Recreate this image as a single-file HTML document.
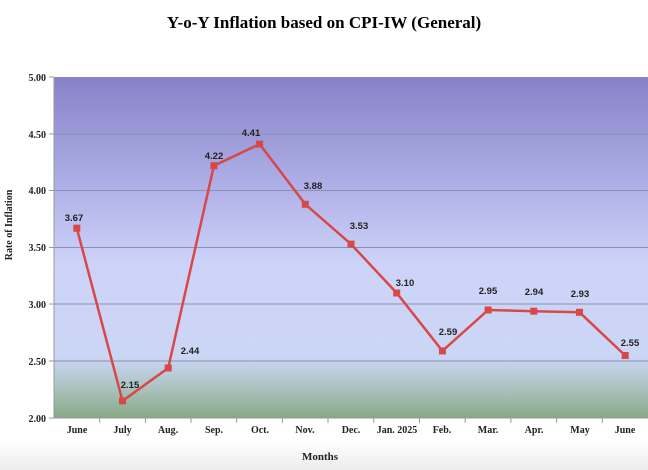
<!DOCTYPE html>
<html><head><meta charset="utf-8"><style>
html,body{margin:0;padding:0;background:#fff;}
svg{display:block;}
</style></head><body>
<svg width="648" height="470" viewBox="0 0 648 470" xmlns="http://www.w3.org/2000/svg">
<defs>
<linearGradient id="bg" x1="0" y1="0" x2="0" y2="1">
<stop offset="0" stop-color="#8682c8"/>
<stop offset="0.35" stop-color="#b3b4ea"/>
<stop offset="0.55" stop-color="#cdd3f8"/>
<stop offset="0.82" stop-color="#cbd6f5"/>
<stop offset="0.9" stop-color="#b0c6c8"/>
<stop offset="1" stop-color="#86a985"/>
</linearGradient>
<linearGradient id="fade" x1="0" y1="0" x2="0" y2="1">
<stop offset="0" stop-color="#fff"/>
<stop offset="1" stop-color="#ececec"/>
</linearGradient>
</defs>
<rect x="0" y="440" width="648" height="30" fill="url(#fade)"/>
<text x="324" y="28" text-anchor="middle" font-family="Liberation Serif, serif" font-weight="bold" font-size="17">Y-o-Y Inflation based on CPI-IW (General)</text>
<rect x="54" y="77" width="594" height="341" fill="url(#bg)"/>
<g stroke="#8d8fb0" stroke-width="1">
<line x1="54" y1="134" x2="648" y2="134"/>
<line x1="54" y1="190.5" x2="648" y2="190.5"/>
<line x1="54" y1="247.5" x2="648" y2="247.5"/>
<line x1="54" y1="304" x2="648" y2="304"/>
<line x1="54" y1="361" x2="648" y2="361"/>
</g>
<g stroke="#999" stroke-width="1">
<line x1="54" y1="77" x2="54" y2="418"/>
<line x1="54" y1="418" x2="648" y2="418"/>
<line x1="49" y1="77" x2="54" y2="77"/><line x1="49" y1="134" x2="54" y2="134"/><line x1="49" y1="190.5" x2="54" y2="190.5"/><line x1="49" y1="247.5" x2="54" y2="247.5"/><line x1="49" y1="304" x2="54" y2="304"/><line x1="49" y1="361" x2="54" y2="361"/><line x1="49" y1="418" x2="54" y2="418"/>
<line x1="99.7" y1="418" x2="99.7" y2="423"/><line x1="145.4" y1="418" x2="145.4" y2="423"/><line x1="191" y1="418" x2="191" y2="423"/><line x1="236.7" y1="418" x2="236.7" y2="423"/><line x1="282.4" y1="418" x2="282.4" y2="423"/><line x1="328" y1="418" x2="328" y2="423"/><line x1="373.8" y1="418" x2="373.8" y2="423"/><line x1="419.5" y1="418" x2="419.5" y2="423"/><line x1="465.2" y1="418" x2="465.2" y2="423"/><line x1="510.9" y1="418" x2="510.9" y2="423"/><line x1="556.6" y1="418" x2="556.6" y2="423"/><line x1="602.3" y1="418" x2="602.3" y2="423"/>
</g>
<g font-family="Liberation Serif, serif" font-weight="bold" font-size="10" text-anchor="end" fill="#222">
<text x="46" y="81">5.00</text><text x="46" y="138">4.50</text><text x="46" y="194">4.00</text><text x="46" y="251">3.50</text><text x="46" y="308">3.00</text><text x="46" y="365">2.50</text><text x="46" y="422">2.00</text>
</g>
<g font-family="Liberation Serif, serif" font-weight="bold" font-size="10" text-anchor="middle" fill="#222">
<text x="77" y="433">June</text><text x="122.5" y="433">July</text><text x="168" y="433">Aug.</text><text x="214" y="433">Sep.</text><text x="260" y="433">Oct.</text><text x="305" y="433">Nov.</text><text x="351" y="433">Dec.</text><text x="397" y="433">Jan. 2025</text><text x="442" y="433">Feb.</text><text x="488" y="433">Mar.</text><text x="534" y="433">Apr.</text><text x="580" y="433">May</text><text x="625" y="433">June</text>
<text x="320" y="460" font-size="11">Months</text>
<text transform="translate(12,225) rotate(-90)" font-size="10">Rate of Inflation</text>
</g>
<polyline fill="none" stroke="#d84848" stroke-width="2.5" points="76.8,228.2 122.5,400.9 168.2,368 213.9,165.7 259.6,144.1 305.3,204.3 351,244.1 396.7,293 442.4,350.9 488.1,310 533.8,311.2 579.5,312.3 625.2,355.5"/>
<g fill="#d84848">
<rect x="73.3" y="224.7" width="7" height="7"/><rect x="119" y="397.4" width="7" height="7"/><rect x="164.7" y="364.5" width="7" height="7"/><rect x="210.4" y="162.2" width="7" height="7"/><rect x="256.1" y="140.6" width="7" height="7"/><rect x="301.8" y="200.8" width="7" height="7"/><rect x="347.5" y="240.6" width="7" height="7"/><rect x="393.2" y="289.5" width="7" height="7"/><rect x="438.9" y="347.4" width="7" height="7"/><rect x="484.6" y="306.5" width="7" height="7"/><rect x="530.3" y="307.7" width="7" height="7"/><rect x="576" y="308.8" width="7" height="7"/><rect x="621.7" y="352" width="7" height="7"/>
</g>
<g font-family="Liberation Sans, sans-serif" font-weight="bold" font-size="9.5" text-anchor="middle" fill="#222">
<text x="74" y="221">3.67</text><text x="130" y="388">2.15</text><text x="190" y="354">2.44</text><text x="214" y="159">4.22</text><text x="251" y="136">4.41</text><text x="313" y="189">3.88</text><text x="359" y="229">3.53</text><text x="405" y="286">3.10</text><text x="448" y="335">2.59</text><text x="488" y="294">2.95</text><text x="534" y="295">2.94</text><text x="580" y="297">2.93</text><text x="630" y="346">2.55</text>
</g>
</svg>
</body></html>
